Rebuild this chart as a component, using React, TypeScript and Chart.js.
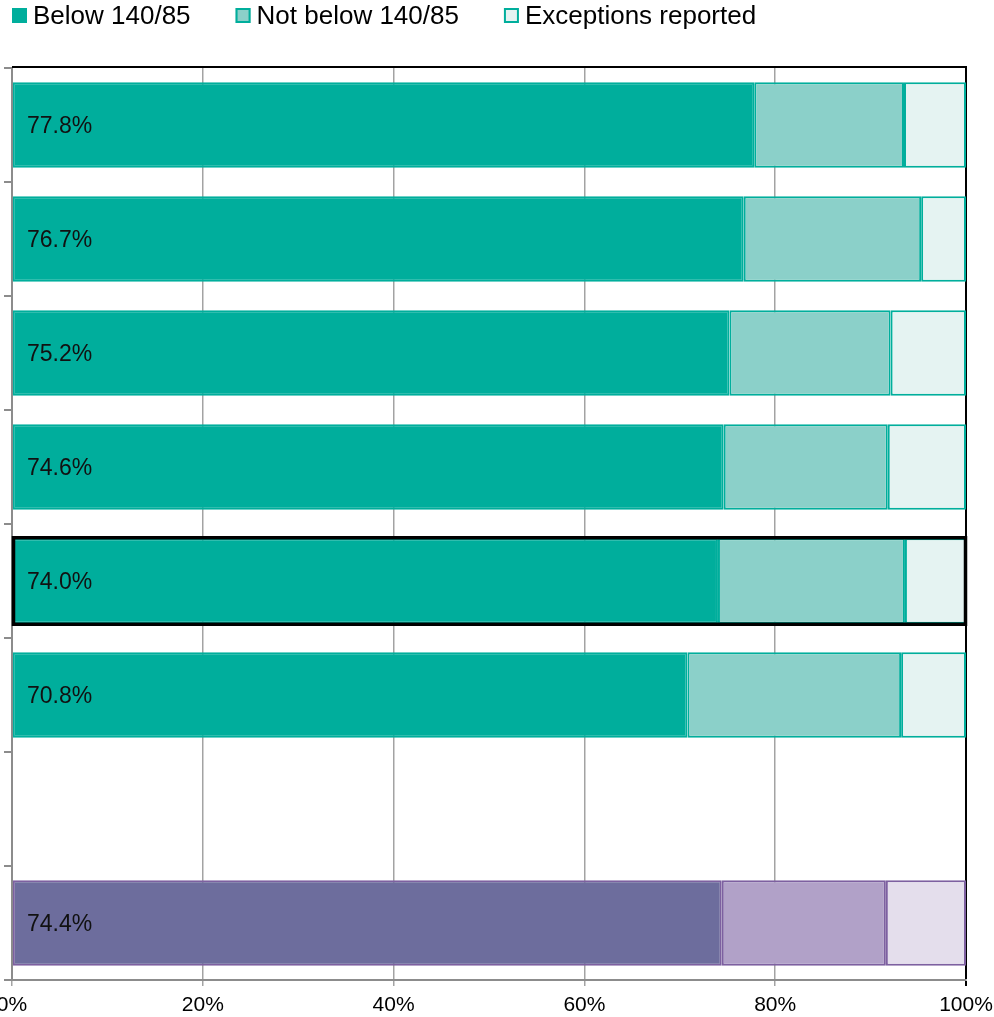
import React, { useEffect, useRef } from "react";
import { Chart, registerables } from "chart.js";

Chart.register(...registerables);

const FONT = '"Liberation Sans", Arial, sans-serif';
Chart.defaults.font.family = FONT;

// ---- data ----
const categories = ["Group 1", "Group 2", "Group 3", "Group 4", "Group 5", "Group 6", "", "Overall"];
const seriesLabels = ["Below 140/85", "Not below 140/85", "Exceptions reported"];
const belowValues = [77.8, 76.7, 75.2, 74.6, 74.0, 70.8, null, 74.4];
const notBelowValues = [15.7, 18.6, 16.9, 17.2, 19.6, 22.4, null, 17.2];
const exceptionValues = [6.5, 4.7, 7.9, 8.2, 6.4, 6.8, null, 8.4];
const xTickValues = [0, 20, 40, 60, 80, 100];
const highlightedIndex = 4;
const comparatorIndex = 7;

// ---- styles ----
const tealFills = ["#00AE9C", "#8BD0C9", "#E5F3F2"];
const tealBorder = "#00AE9C";
const purpleFills = ["#6D6D9D", "#B1A1C8", "#E4DEEC"];
const purpleBorder = "#7D60A0";
const gridGray = "#a3a3a3";
const axisGray = "#8c8c8c";

const seriesValues = [belowValues, notBelowValues, exceptionValues];

const overlayPlugin = {
  id: "overlay",
  afterDatasetsDraw(chart: any) {
    const { ctx, chartArea } = chart;
    const { left, right, top } = chartArea;
    ctx.save();
    // top border of plot area
    ctx.strokeStyle = "#000";
    ctx.lineWidth = 2;
    ctx.beginPath();
    ctx.moveTo(left, top - 1);
    ctx.lineTo(right + 1, top - 1);
    ctx.stroke();

    // data labels for first series
    const meta = chart.getDatasetMeta(0);
    ctx.fillStyle = "#111";
    ctx.font = `23px ${FONT}`;
    ctx.textBaseline = "middle";
    ctx.textAlign = "left";
    meta.data.forEach((el: any, i: number) => {
      const v = belowValues[i];
      if (v == null) return;
      ctx.fillText(`${v.toFixed(1)}%`, left + 15, el.y + 2);
    });

    // highlight frame
    const hl = meta.data[highlightedIndex] as any;
    if (hl) {
      const h = hl.height;
      ctx.strokeStyle = "#000";
      ctx.lineWidth = 3.5;
      ctx.strokeRect(left + 1.5, hl.y - h / 2 - 0.5, right - left - 2, h + 1);
    }
    ctx.restore();
  },
  afterDraw(chart: any) {
    const { ctx, chartArea } = chart;
    ctx.save();
    ctx.font = `26px ${FONT}`;
    ctx.textBaseline = "alphabetic";
    ctx.textAlign = "left";
    let x = chartArea.left;
    seriesLabels.forEach((label, k) => {
      ctx.fillStyle = tealFills[k];
      ctx.fillRect(x, 8, 15, 15);
      if (k > 0) {
        ctx.strokeStyle = tealBorder;
        ctx.lineWidth = 2;
        ctx.strokeRect(x + 1, 9, 13, 13);
      }
      ctx.fillStyle = "#000";
      ctx.fillText(label, x + 21, 24);
      x += 21 + ctx.measureText(label).width + 45;
    });
    ctx.restore();
  },
};

export default function App() {
  const ref = useRef<HTMLCanvasElement | null>(null);

  useEffect(() => {
    if (!ref.current) return;
    const datasets = seriesValues.map((vals, k) => ({
      label: seriesLabels[k],
      data: vals,
      backgroundColor: categories.map((_, i) => (i === comparatorIndex ? purpleFills[k] : tealFills[k])),
      borderColor: categories.map((_, i) => (i === comparatorIndex ? purpleBorder : tealBorder)),
      borderWidth: 2,
      borderSkipped: false,
      barPercentage: 0.75,
      categoryPercentage: 1,
    }));

    const chart = new Chart(ref.current, {
      type: "bar",
      data: { labels: categories, datasets },
      plugins: [overlayPlugin],
      options: {
        indexAxis: "y",
        responsive: true,
        maintainAspectRatio: false,
        animation: false,
        layout: { padding: { top: 68, right: 40, left: 0, bottom: 0 } },
        plugins: { legend: { display: false }, tooltip: { enabled: false } },
        scales: {
          x: {
            stacked: true,
            min: 0,
            max: 100,
            afterBuildTicks: (scale: any) => {
              scale.ticks = xTickValues.map((v) => ({ value: v }));
            },
            afterFit: (scale: any) => {
              scale.height = 37;
            },
            ticks: {
              autoSkip: false,
              maxRotation: 0,
              padding: 7,
              color: "#000",
              font: { size: 21 },
              callback: (v: any) => `${v}%`,
            },
            grid: {
              color: (c: any) => (c.tick && c.tick.value === 100 ? "#000" : gridGray),
              lineWidth: (c: any) => (c.tick && c.tick.value === 100 ? 2 : 1.5),
              tickLength: 6,
            },
            border: { color: axisGray, width: 2 },
          },
          y: {
            stacked: true,
            afterFit: (scale: any) => {
              scale.width = 40;
            },
            ticks: { display: false },
            grid: {
              drawOnChartArea: false,
              drawTicks: true,
              tickLength: 8,
              color: axisGray,
              lineWidth: 2,
              offset: true,
            },
            border: { color: axisGray, width: 2 },
          },
        },
      } as any,
    });
    return () => chart.destroy();
  }, []);

  return (
    <div style={{ position: "absolute", left: 0, top: 0, width: 994, height: 1017, overflow: "hidden" }}>
      <div style={{ position: "absolute", left: -28, top: 0, width: 1034, height: 1017 }}>
        <canvas ref={ref} />
      </div>
    </div>
  );
}
